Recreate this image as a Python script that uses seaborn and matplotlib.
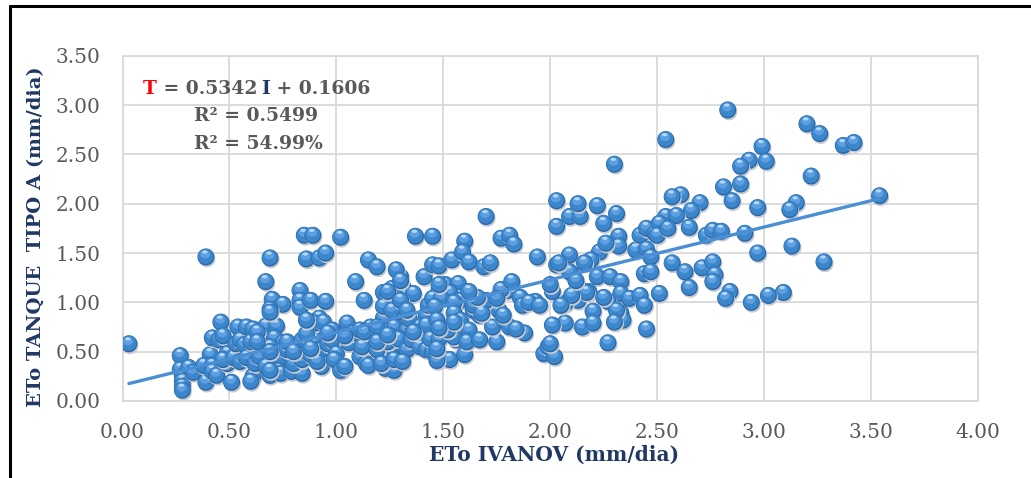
import numpy as np
import pandas as pd
import matplotlib
matplotlib.use("Agg")
import matplotlib.pyplot as plt
from matplotlib.path import Path
from matplotlib.lines import Line2D
import seaborn as sns

# Daily reference evapotranspiration (mm/dia): Ivanov method vs. class A pan
ivanov = [
    0.03, 0.27, 0.27, 0.28, 0.28, 0.28, 0.28, 0.31, 0.33, 0.39, 0.39, 0.41, 0.38, 0.42, 0.42,
    0.44, 0.42, 0.45, 0.46, 0.47, 0.49, 0.49, 0.51, 0.47, 0.52, 0.54, 0.53, 0.55, 0.55,
    0.58, 0.57, 0.58, 0.61, 0.60, 0.61, 0.60, 0.62, 0.64,
    0.67, 0.72, 0.66, 0.71, 0.75, 0.69,
    0.70, 0.74, 0.79, 0.67, 0.73, 0.69, 0.74, 0.79, 0.84, 0.80, 0.84, 0.77, 0.82,
    0.67, 0.69, 0.70, 0.75, 0.69,
    0.83, 0.83, 0.83, 0.88, 0.95,
    0.85, 0.89, 0.86, 0.92, 0.95,
    0.84, 0.88, 0.92, 0.90, 0.93, 0.88, 0.93, 0.90, 0.94, 0.86, 0.96, 0.91,
    0.98, 0.98, 1.00, 0.99,
    1.02, 1.02, 1.05, 1.06, 1.08, 1.11, 1.14, 1.16, 1.20, 1.04, 1.04,
    1.09, 1.13, 1.15, 1.19, 1.22, 1.22,
    1.26, 1.30, 1.28, 1.31, 1.33, 1.36, 1.28, 1.31, 1.30, 1.25, 1.29, 1.22, 1.26,
    1.37, 1.45,
    1.15, 1.23, 1.27, 1.27, 1.30, 1.22, 1.17, 1.22, 1.27, 1.11, 1.16, 1.33, 1.36, 1.12,
    1.19, 1.24, 1.29, 1.33, 1.21, 1.27, 1.31, 1.35, 1.34, 1.38,
    1.41, 1.39, 1.42, 1.42, 1.43, 1.39, 1.42,
    1.45, 1.48, 1.54, 1.60, 1.59, 1.62, 1.69, 1.72, 1.70,
    1.77, 1.81, 1.83, 1.94,
    1.48, 1.51, 1.57, 1.45, 1.57, 1.53, 1.58, 1.49, 1.46, 1.55,
    1.55, 1.58, 1.64, 1.67, 1.62, 1.56, 1.45, 1.50, 1.53, 1.47, 1.60, 1.44, 1.48, 1.55,
    1.61, 1.47, 1.52, 1.55,
    1.67, 1.75, 1.73, 1.76, 1.81, 1.80, 1.77, 1.82, 1.86, 1.70, 1.75, 1.64, 1.68, 1.78,
    1.87, 1.88, 1.93, 1.84, 1.97, 1.99, 2.02, 1.66, 1.62, 1.90, 1.95,
    2.03, 2.03, 2.09, 2.14, 2.13, 2.22, 2.31, 2.25,
    2.30, 2.54,
    2.32, 2.32, 2.23, 2.26, 2.19, 2.09, 2.03, 2.16, 2.10, 2.22, 2.28, 2.33, 2.09, 2.40,
    2.42, 2.45, 2.49, 2.45, 2.47, 2.44, 2.47,
    2.33, 2.37, 2.42, 2.51, 2.44, 2.27, 2.20, 2.33, 2.34, 2.31, 2.30, 2.45, 2.27,
    2.00, 2.07, 2.15, 2.01, 2.20, 2.13, 2.07, 2.18, 2.01, 2.13, 2.17, 2.10, 2.00, 2.05,
    2.12, 2.25, 2.04,
    2.83, 3.20, 3.26, 3.37, 3.42, 2.99, 2.93, 2.89, 3.01, 3.22, 3.54,
    2.81, 2.89, 2.85, 2.97, 3.15, 3.12, 3.13, 3.28, 2.97, 2.91, 3.09, 3.02, 2.94, 2.84, 2.82,
    2.61, 2.57, 2.70, 2.66, 2.54, 2.59, 2.65, 2.73, 2.76, 2.80,
    2.57, 2.63, 2.71, 2.76, 2.77, 2.76, 2.65,
    2.51, 2.50, 2.55,
    0.69, 0.63, 0.63, 0.77, 0.69, 0.80, 0.69, 0.86, 0.96, 0.88, 1.13, 1.19, 1.24, 1.30,
    1.19, 1.24, 1.33, 1.48, 1.36, 1.47, 1.48,
]
tanque = [
    0.58, 0.46, 0.32, 0.25, 0.20, 0.15, 0.11, 0.34, 0.29, 1.46, 0.19, 0.47, 0.36, 0.36, 0.30,
    0.26, 0.64, 0.62, 0.80, 0.66, 0.48, 0.38, 0.19, 0.42, 0.44, 0.75, 0.58, 0.62, 0.40,
    0.75, 0.57, 0.44, 0.25, 0.20, 0.73, 0.60, 0.38, 0.45,
    0.76, 0.76, 0.64, 0.64, 0.59, 0.55,
    0.47, 0.45, 0.45, 0.35, 0.31, 0.26, 0.28, 0.30, 0.28, 0.38, 0.42, 0.52, 0.55,
    1.21, 1.45, 1.03, 0.98, 0.93,
    1.12, 1.02, 0.95, 1.02, 1.01,
    1.68, 1.68, 1.44, 1.45, 1.50,
    0.62, 0.72, 0.84, 0.62, 0.52, 0.47, 0.35, 0.79, 0.80, 0.68, 0.58, 0.40,
    0.72, 0.62, 0.48, 0.42,
    1.66, 0.31, 0.79, 0.59, 0.69, 0.45, 0.38, 0.75, 0.72, 0.66, 0.35,
    1.21, 1.02, 1.43, 1.36, 1.10, 0.84,
    1.14, 1.26, 1.33, 1.16, 1.06, 1.09, 1.01, 0.94, 1.22, 1.08, 0.90, 0.96, 0.92,
    1.67, 1.67,
    0.36, 0.33, 0.31, 0.50, 0.57, 0.45, 0.67, 0.70, 0.75, 0.72, 0.59, 0.72, 0.75, 0.55,
    0.52, 0.60, 0.63, 0.52, 0.38, 0.42, 0.40, 0.62, 0.83, 0.66,
    1.26, 0.55, 0.52, 0.87, 0.97, 0.75, 0.77,
    1.38, 1.37, 1.43, 1.62, 1.51, 1.41, 1.36, 1.40, 1.87,
    1.65, 1.68, 1.59, 1.46,
    1.13, 1.18, 1.19, 1.04, 1.06, 1.10, 1.02, 1.04, 0.96, 1.00,
    0.89, 0.82, 0.92, 0.87, 0.72, 0.62, 0.50, 0.43, 0.42, 0.41, 0.47, 0.63, 0.63, 0.65,
    0.60, 0.82, 0.72, 0.80,
    0.62, 0.60, 0.75, 0.92, 0.75, 1.12, 1.13, 1.21, 1.05, 1.02, 1.04, 0.97, 0.89, 0.87,
    0.97, 0.69, 1.01, 0.73, 0.48, 0.55, 0.45, 1.05, 1.11, 1.00, 0.97,
    2.03, 1.77, 1.87, 1.87, 2.00, 1.98, 1.90, 1.80,
    2.40, 2.65,
    1.67, 1.57, 1.51, 1.60, 1.43, 1.48, 1.38, 1.40, 1.29, 1.26, 1.26, 1.21, 1.31, 1.53,
    1.68, 1.75, 1.70, 1.54, 1.46, 1.29, 1.31,
    1.09, 1.04, 1.07, 1.09, 0.97, 1.01, 0.91, 0.89, 0.82, 0.92, 0.80, 0.73, 0.59,
    0.58, 0.79, 0.75, 0.77, 0.79, 1.02, 0.99, 1.11, 1.11, 1.16, 1.10, 1.07, 1.18, 0.97,
    1.22, 1.05, 1.40,
    2.95, 2.81, 2.71, 2.59, 2.62, 2.58, 2.44, 2.38, 2.43, 2.28, 2.08,
    2.17, 2.20, 2.03, 1.96, 2.01, 1.94, 1.57, 1.41, 1.50, 1.70, 1.10, 1.07, 1.00, 1.11, 1.04,
    2.09, 2.07, 2.01, 1.93, 1.87, 1.88, 1.76, 1.68, 1.73, 1.72,
    1.40, 1.31, 1.35, 1.41, 1.28, 1.21, 1.15,
    1.80, 1.68, 1.75,
    0.90, 0.70, 0.60, 0.60, 0.50, 0.50, 0.31, 0.82, 0.69, 0.53, 0.70, 0.75, 1.11, 1.02,
    0.60, 0.67, 0.92, 1.18, 0.70, 0.53, 0.74,
]

# Linear fit reported for the series
SLOPE = 0.5342
INTERCEPT = 0.1606
R2 = 0.5499

X_TICKS = [0.0, 0.5, 1.0, 1.5, 2.0, 2.5, 3.0, 3.5, 4.0]
Y_TICKS = [0.0, 0.5, 1.0, 1.5, 2.0, 2.5, 3.0, 3.5]
X_LABEL = "ETo IVANOV (mm/dia)"
Y_LABEL = "ETo TANQUE  TIPO A (mm/dia)"

GREY = "#595959"
NAVY = "#1f3864"
GRID = "#d9d9d9"


def disc(cx, cy, rx, ry=None, n=48):
    """Elliptical marker path; two lone anchor points keep every layer on one scale."""
    ry = rx if ry is None else ry
    t = np.linspace(0, 2 * np.pi, n, endpoint=False)
    pts = np.column_stack([cx + rx * np.cos(t), cy + ry * np.sin(t)])
    verts = np.vstack([[[1.0, 1.0]], [[-1.0, -1.0]], pts, pts[:1]])
    codes = ([Path.MOVETO, Path.MOVETO, Path.MOVETO]
             + [Path.LINETO] * (n - 1) + [Path.CLOSEPOLY])
    return Path(verts, codes)


# Shaded "sphere" marker, drawn as stacked layers per observation
LAYERS = ["shadow", "rim", "body", "glow", "shine"]
MARKERS = {
    "shadow": disc(0.10, -0.17, 0.80),
    "rim": disc(0.0, 0.0, 0.80),
    "body": disc(-0.03, 0.05, 0.72),
    "glow": disc(-0.08, 0.24, 0.46, 0.38),
    "shine": disc(-0.10, 0.46, 0.26, 0.15),
}
COLOURS = {
    "shadow": "#c3cad3",
    "rim": "#2a65a3",
    "body": "#3c86cc",
    "glow": "#5d9fe0",
    "shine": "#b4d8f7",
}

sns.set_theme(style="whitegrid")
plt.rcParams["font.family"] = ["DejaVu Serif"]

fig = plt.figure(figsize=(10.31, 4.78), dpi=100)
ax = fig.add_axes([0.11882, 0.16109, 0.82978, 0.72238])

n = len(ivanov)
balls = pd.DataFrame({
    "ivanov": np.repeat(ivanov, len(LAYERS)),
    "tanque": np.repeat(tanque, len(LAYERS)),
    "layer": np.tile(LAYERS, n),
})

sns.scatterplot(
    data=balls, x="ivanov", y="tanque",
    hue="layer", hue_order=LAYERS, palette=COLOURS,
    style="layer", style_order=LAYERS, markers=MARKERS,
    s=234, linewidth=0, edgecolor="none", legend=False, ax=ax, zorder=3,
)

# Trend line over the observed range
x_fit = np.array([min(ivanov), max(ivanov)])
sns.lineplot(x=x_fit, y=SLOPE * x_fit + INTERCEPT, color="#4a8fd3",
             linewidth=2.4, ax=ax, zorder=5)

ax.set_xlim(X_TICKS[0], X_TICKS[-1])
ax.set_ylim(Y_TICKS[0], Y_TICKS[-1])
ax.set_xticks(X_TICKS)
ax.set_yticks(Y_TICKS)
ax.set_xticklabels([f"{v:.2f}" for v in X_TICKS])
ax.set_yticklabels([f"{v:.2f}" for v in Y_TICKS])
ax.tick_params(length=0, pad=16, labelsize=14.5, labelcolor=GREY)
ax.grid(True, color=GRID, linewidth=1.3)
ax.set_axisbelow(True)
for sp in ax.spines.values():
    sp.set_visible(True)
    sp.set_color(GRID)
    sp.set_linewidth(1.3)

ax.set_xlabel(X_LABEL, fontsize=14.5, fontweight="bold", color=NAVY)
ax.set_ylabel(Y_LABEL, fontsize=14, fontweight="bold", color=NAVY)
ax.xaxis.label.set_va("center")
ax.yaxis.label.set_va("center")
ax.xaxis.set_label_coords(0.505, -0.156)
ax.yaxis.set_label_coords(-0.101, 0.475)

# Regression equation and coefficient of determination
eq_kw = dict(fontsize=13.5, fontweight="bold")
t0 = fig.text(143 / 1031, 1 - 94 / 478, "T", color="#ff0000", va="baseline", **eq_kw)
t1 = ax.annotate(f" = {SLOPE:.4f}\u2009", xy=(1, 0), xycoords=t0, va="bottom",
                 color=GREY, **eq_kw)
t2 = ax.annotate("I", xy=(1, 0), xycoords=t1, va="bottom", color=NAVY, **eq_kw)
ax.annotate(f" + {INTERCEPT:.4f}", xy=(1, 0), xycoords=t2, va="bottom",
            color=GREY, **eq_kw)
fig.text(194 / 1031, 1 - 121 / 478, f"R\u00b2 = {R2:.4f}", color=GREY,
         va="baseline", **eq_kw)
fig.text(194 / 1031, 1 - 149 / 478, f"R\u00b2 = {R2 * 100:.2f}%", color=GREY,
         va="baseline", **eq_kw)

# Outer frame (top and left edges)
fig.add_artist(Line2D([10 / 1031, 1], [1 - 6 / 478, 1 - 6 / 478],
                      transform=fig.transFigure, color="black", linewidth=2.2))
fig.add_artist(Line2D([10 / 1031, 10 / 1031], [0, 1 - 6 / 478],
                      transform=fig.transFigure, color="black", linewidth=2.2))

fig.savefig("out.png", dpi=100)
